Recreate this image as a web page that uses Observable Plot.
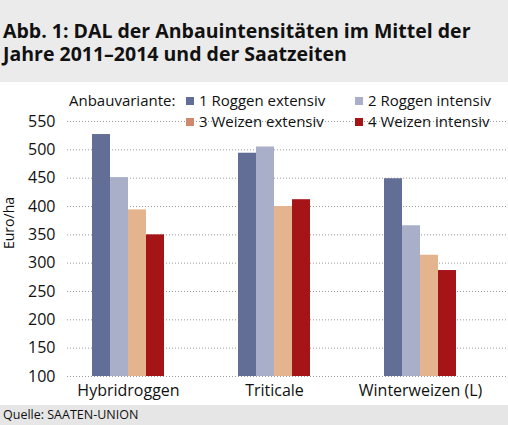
<!DOCTYPE html>
<html><head><meta charset="utf-8">
<script src="https://cdn.jsdelivr.net/npm/d3@7"></script>
<script src="https://cdn.jsdelivr.net/npm/@observablehq/plot@0.6"></script>
<style>
body{margin:0;width:508px;height:425px;overflow:hidden;font-family:"Open Sans",sans-serif;background:#fff;position:relative;color:#111}
#head{position:absolute;top:0;left:0;width:508px;height:82px;background:#ebebeb;box-sizing:border-box;padding:19px 0 0 3px;font-weight:bold;font-size:19.5px;line-height:23px}
.layer{position:absolute;top:82px;left:0}
#legend{position:absolute;top:90px;left:69px;font-size:15px;line-height:21px}
#legend .row{display:flex;align-items:center;height:21px}
#legend .lab{width:117px}
#legend .it{display:flex;align-items:center;width:169px}
#legend .sw{width:8px;height:8px;margin-right:5px}
#foot{position:absolute;top:405px;left:0;width:508px;height:20px;background:#e6e6e6;font-size:12.5px;padding-left:3px;box-sizing:border-box;line-height:20px}
</style></head>
<body>
<div id="head">Abb. 1: DAL der Anbauintensitäten im Mittel der<br>Jahre 2011–2014 und der Saatzeiten</div>
<div id="base" class="layer"></div>
<div id="bars" class="layer"></div>
<div id="legend"></div>
<div id="foot">Quelle: SAATEN-UNION</div>
<script>
const categories = ["Hybridroggen", "Triticale", "Winterweizen (L)"];
const variants = ["1 Roggen extensiv", "2 Roggen intensiv", "3 Weizen extensiv", "4 Weizen intensiv"];
const hybridroggen = [527, 451, 394, 350];
const triticale = [494, 505, 400, 412];
const winterweizen = [449, 366, 314, 287];
const yTicks = [100, 150, 200, 250, 300, 350, 400, 450, 500, 550];
const colors = ["#636e97", "#a9aec9", "#e4b48f", "#a51518"];
const legendColors = ["#636e97", "#a9aec9", "#cf8a6c", "#a51518"];

const series = [hybridroggen, triticale, winterweizen];
const rows = [];
categories.forEach((c, i) => variants.forEach((v, j) => rows.push({cat: c, variant: v, value: series[i][j]})));

const font = "'Open Sans', sans-serif";
const frame = {width: 508, height: 321, marginLeft: 67, marginRight: 0, marginTop: 39, marginBottom: 27};
const catScale = {domain: categories, range: [54, 494], paddingInner: 0.51, paddingOuter: 0.255};
const yScale = {domain: [100, 550], label: null};

// background layer: grid, axes, axis title
const base = Plot.plot({
  ...frame,
  style: {fontFamily: font, fontSize: "16px", color: "#111", background: "transparent"},
  x: {type: "band", ...catScale, label: null},
  y: yScale,
  marks: [
    Plot.ruleY(yTicks, {stroke: "#999", strokeDasharray: "1,2"}),
    Plot.axisY(yTicks, {tickSize: 0, tickPadding: 12, label: null, fontSize: 16}),
    Plot.axisX({tickSize: 0, tickPadding: 8, label: null, fontSize: 16}),
    Plot.text(["Euro/ha"], {frameAnchor: "left", rotate: -90, dx: -58, fontSize: 14})
  ]
});
document.getElementById("base").appendChild(base);

// foreground layer: grouped bars
const bars = Plot.plot({
  ...frame,
  style: {fontFamily: font, fontSize: "16px", background: "transparent"},
  fx: {...catScale, label: null, axis: null},
  x: {domain: variants, axis: null, paddingInner: 0, paddingOuter: 0},
  y: {...yScale, axis: null},
  color: {domain: variants, range: colors},
  marks: [
    Plot.barY(rows, {fx: "cat", x: "variant", y1: 100, y2: "value", fill: "variant"})
  ]
});
document.getElementById("bars").appendChild(bars);

const lg = document.getElementById("legend");
[[0, 1], [2, 3]].forEach((r, ri) => {
  const row = document.createElement("div");
  row.className = "row";
  const lab = document.createElement("div");
  lab.className = "lab";
  lab.textContent = ri === 0 ? "Anbauvariante:" : "";
  row.appendChild(lab);
  r.forEach(k => {
    const it = document.createElement("div");
    it.className = "it";
    const sw = document.createElement("div");
    sw.className = "sw";
    sw.style.background = legendColors[k];
    it.appendChild(sw);
    it.appendChild(document.createTextNode(variants[k]));
    row.appendChild(it);
  });
  lg.appendChild(row);
});
</script>
</body></html>
